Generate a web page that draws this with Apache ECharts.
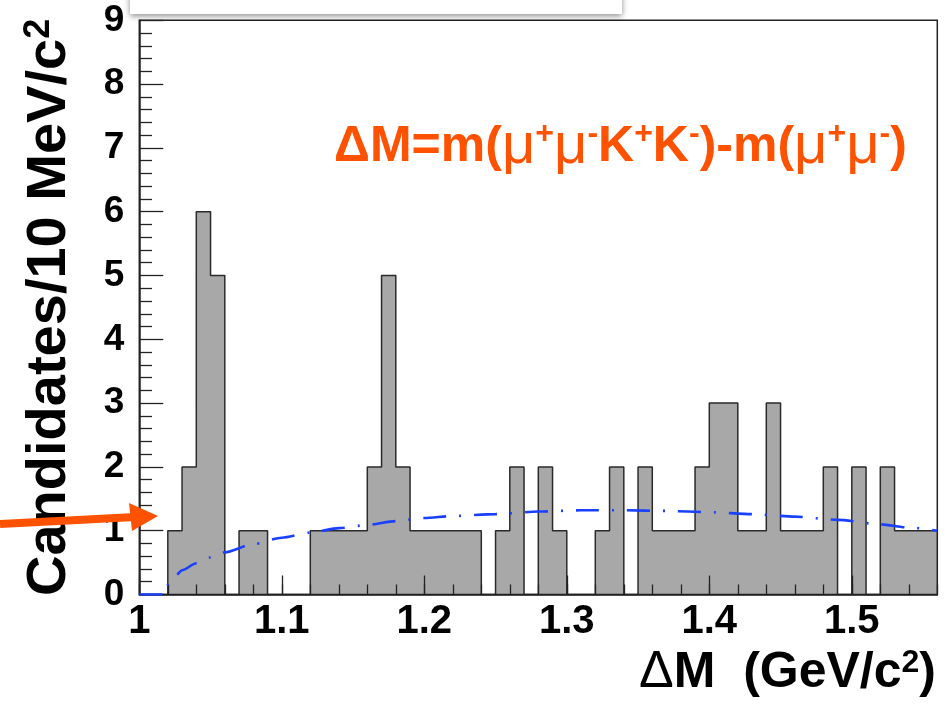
<!DOCTYPE html>
<html><head><meta charset="utf-8">
<script src="https://cdn.jsdelivr.net/npm/echarts@6/dist/echarts.min.js"></script>
<style>html,body{margin:0;padding:0;background:#fff}#c{width:951px;height:704px}</style>
</head><body><div id="c"></div>
<script>
// Histogram: 10 MeV bins starting at 1.00 GeV
const binStart = 1.00;
const binWidth = 0.01;
const counts = [0,0,1,2,6,5,0,1,1,0,0,0,1,1,1,1,2,5,2,1,1,1,1,1,0,1,2,0,2,1,0,0,1,2,0,2,1,1,1,2,3,3,1,1,3,1,1,1,2,0,2,0,2,1,1,1];
// Fit curve
const fitX = [1.000,1.019,1.020,1.025,1.030,1.040,1.050,1.060,1.080,1.100,1.120,1.140,1.160,1.180,1.200,1.220,1.250,1.280,1.310,1.340,1.370,1.400,1.430,1.460,1.490,1.520,1.540,1.560];
const fitY = [0,0,0.15,0.28,0.38,0.49,0.58,0.66,0.79,0.89,0.97,1.04,1.09,1.15,1.20,1.23,1.26,1.30,1.32,1.32,1.31,1.29,1.26,1.22,1.17,1.10,1.05,1.00];
// Axis ticks
const xTickLabels = {'1':'1','1.1':'1.1','1.2':'1.2','1.3':'1.3','1.4':'1.4','1.5':'1.5'};
const yTickLabels = ['0','1','2','3','4','5','6','7','8','9'];

const FONT = 'Liberation Sans, Arial, Helvetica, sans-serif';
const ORANGE = '#ff5200';

const histData = counts.map((v, i) => [+(binStart + i * binWidth).toFixed(2), v]);
histData.push([+(binStart + counts.length * binWidth).toFixed(2), counts[counts.length - 1]]);
const fitData = fitX.map((x, i) => [x, fitY[i]]);

const chart = echarts.init(document.getElementById('c'), null, {renderer: 'canvas'});
chart.setOption({
  animation: false,
  backgroundColor: '#fff',
  grid: {left: 139.3, right: 13.7, top: 20.3, bottom: 109.5, show: true, borderColor: '#222', borderWidth: 1.5, backgroundColor: 'transparent', z: 10},
  xAxis: [{
    type: 'value', min: 1, max: 1.56, interval: 0.1, z: 6,
    axisLine: {show: true, lineStyle: {color: '#222', width: 1.5}},
    axisTick: {show: true, inside: true, length: 19, lineStyle: {color: '#222', width: 1.3}},
    splitLine: {show: false},
    axisLabel: {show: true, showMaxLabel: false, margin: 7, fontSize: 40, fontWeight: 'bold', fontFamily: FONT, color: '#000',
      formatter: v => xTickLabels[String(+v.toFixed(2))] || ''}
  }, {
    type: 'value', min: 1, max: 1.56, interval: 0.02, z: 6, position: 'bottom',
    axisLine: {show: false},
    axisTick: {show: true, inside: true, length: 10, lineStyle: {color: '#222', width: 1.3}},
    splitLine: {show: false},
    axisLabel: {show: false}
  }],
  yAxis: {
    type: 'value', min: 0, max: 9, interval: 1, z: 6,
    axisLine: {show: true, lineStyle: {color: '#222', width: 1.5}},
    axisTick: {show: true, inside: true, length: 24, lineStyle: {color: '#222', width: 1.3}},
    minorTick: {show: true, splitNumber: 5, length: 12.7, lineStyle: {color: '#222', width: 1.3}},
    splitLine: {show: false},
    axisLabel: {margin: 15, fontSize: 37, fontWeight: 'bold', fontFamily: FONT, color: '#000',
      formatter: v => yTickLabels[Math.round(v)]},
    name: 'Candidates/10 MeV/c{s|2}',
    nameLocation: 'middle', nameRotate: 90, nameGap: 62,
    nameTextStyle: {fontSize: 56, fontWeight: 'bold', fontFamily: FONT, color: '#000',
      rich: {s: {fontSize: 36, fontWeight: 'bold', fontFamily: FONT, color: '#000', verticalAlign: 'top'}}}
  },
  series: [{
    type: 'line', name: 'data', step: 'end', data: histData, symbol: 'none', z: 2,
    lineStyle: {color: '#2a2a2a', width: 1.5},
    areaStyle: {color: '#a8a8a8', opacity: 1},
    xAxisIndex: 0
  }, {
    type: 'line', name: 'fit', data: fitData, symbol: 'none', z: 12, smooth: 0.25, smoothMonotone: 'x',
    lineStyle: {color: '#1a40ff', width: 2.6, type: [23, 13, 2, 13]},
    xAxisIndex: 0
  }],
  graphic: [
    {type: 'rect', shape: {x: 130, y: -10, width: 492, height: 24}, z: 20,
      style: {fill: '#fff', shadowBlur: 6, shadowColor: 'rgba(0,0,0,0.45)', shadowOffsetY: 2}},
    {type: 'text', x: 334, y: 147, z: 20,
      style: {
        text: 'ΔM=m({mu|μ}{p|+}{mu|μ}{p|-}K{p|+}K{p|-})-m({mu|μ}{p|+}{mu|μ}{p|-})',
        fill: ORANGE, fontSize: 50, fontWeight: 'bold', fontFamily: FONT, verticalAlign: 'middle', align: 'left',
        rich: {
          mu: {fill: ORANGE, fontSize: 58, fontWeight: 'normal', fontFamily: FONT},
          p: {fill: ORANGE, fontSize: 32, fontWeight: 'bold', fontFamily: FONT, verticalAlign: 'top'}
        }
      }},
    {type: 'text', x: 936, y: 673, z: 20,
      style: {
        text: '{d|Δ}M  (GeV/c{s|2})',
        fill: '#000', fontSize: 50, fontWeight: 'bold', fontFamily: FONT, verticalAlign: 'middle', align: 'right',
        rich: {
          d: {fill: '#000', fontSize: 52, fontWeight: 'normal', fontFamily: FONT},
          s: {fill: '#000', fontSize: 32, fontWeight: 'bold', fontFamily: FONT, verticalAlign: 'top'}
        }
      }},
    {type: 'polyline', z: 21, shape: {points: [[0, 524], [135, 517]]},
      style: {stroke: ORANGE, lineWidth: 8, fill: null}},
    {type: 'polygon', z: 21, shape: {points: [[129, 503], [158, 516], [132, 531]]},
      style: {fill: ORANGE}}
  ]
});
</script>
</body></html>
